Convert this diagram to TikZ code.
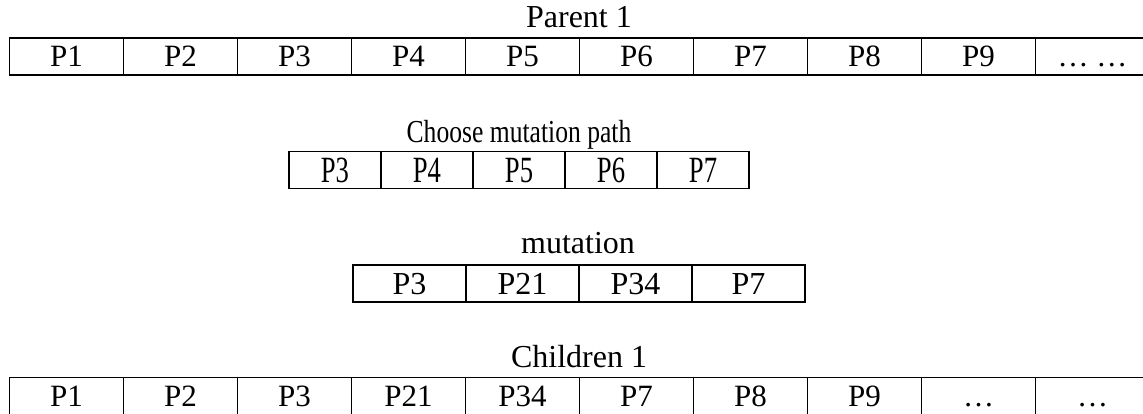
\documentclass[tikz,border=0pt]{standalone}
\usepackage{fontspec}
\setmainfont{Liberation Serif}
\tikzset{
  cellbox/.style={draw, line width=1.3pt, minimum height=37pt, inner sep=0pt,
    text height=21pt, text depth=0pt, font=\fontsize{31}{36}\selectfont},
  wide/.style={cellbox, minimum width=114pt},
  narrow/.style={cellbox, minimum width=92pt, text height=25pt, font=\fontsize{37}{42}\selectfont},
  mid/.style={cellbox, minimum width=113pt, font=\fontsize{32}{37}\selectfont},
  title/.style={anchor=base, inner sep=0pt, font=\fontsize{32}{37}\selectfont}
}
\begin{document}
\begin{tikzpicture}[x=1pt,y=-1pt]
\useasboundingbox (0,0) rectangle (1143,414);
\clip (0,0) rectangle (1143,414);
% Parent 1
\node[title] (t1) at (579,28) {Parent 1};
\foreach \t [count=\i] in {P1,P2,P3,P4,P5,P6,P7,P8,P9,{\ldots\ \ldots}} {
  \node[wide] (a\i) at ({9.5+114*(\i-0.5)},56.5) {\t};
}
% Choose mutation path
\node[title] (t2) at (519,143) {\scalebox{0.8}[1]{Choose mutation path}};
\foreach \t [count=\i] in {P3,P4,P5,P6,P7} {
  \node[narrow] (b\i) at ({289+92*(\i-0.5)},170) {\scalebox{0.72}[1]{\t}};
}
% mutation
\node[title] (t3) at (578,253) {mutation};
\foreach \t [count=\i] in {P3,P21,P34,P7} {
  \node[mid] (c\i) at ({353+113*(\i-0.5)},283.5) {\t};
}
% Children 1
\node[title] (t4) at (579,367) {Children 1};
\foreach \t [count=\i] in {P1,P2,P3,P21,P34,P7,P8,P9,\ldots,\ldots} {
  \node[wide] (d\i) at ({9.5+114*(\i-0.5)},396) {\t};
}
\end{tikzpicture}
\end{document}
